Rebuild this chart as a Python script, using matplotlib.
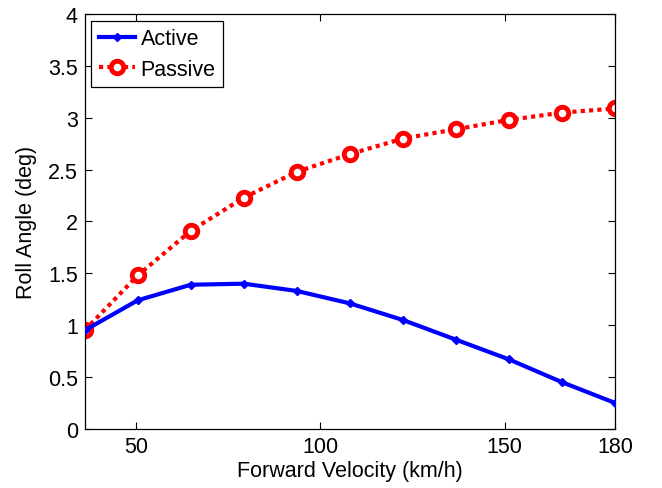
import matplotlib
matplotlib.use("Agg")
import matplotlib.pyplot as plt

plt.rcParams['font.family'] = ['Liberation Sans', 'DejaVu Sans']

velocity = [36, 50.4, 64.8, 79.2, 93.6, 108, 122.4, 136.8, 151.2, 165.6, 180]
active = [0.95, 1.24, 1.39, 1.40, 1.33, 1.21, 1.05, 0.86, 0.67, 0.45, 0.25]
passive = [0.95, 1.48, 1.91, 2.23, 2.48, 2.65, 2.80, 2.89, 2.98, 3.05, 3.09]
xticks = [50, 100, 150, 180]
yticks = [0, 0.5, 1, 1.5, 2, 2.5, 3, 3.5, 4]
yticklabels = ['0', '0.5', '1', '1.5', '2', '2.5', '3', '3.5', '4']

fig = plt.figure(figsize=(6.62, 4.89), dpi=100)
ax = fig.add_axes([0.128, 0.121, 0.801, 0.848])

ax.plot(velocity, active, color='#0000ff', lw=3, marker='D', ms=4.5, mew=1,
        label='Active', zorder=3)
ax.plot(velocity, passive, color='#ff0000', lw=3, ls=(0, (1, 1)), marker='o', ms=9,
        mfc='white', mec='#ff0000', mew=3.5, label='Passive', zorder=2)

ax.set_xlim(36, 180)
ax.set_ylim(0, 4)
ax.set_xticks(xticks)
ax.set_yticks(yticks)
ax.set_yticklabels(yticklabels)
ax.tick_params(direction='in', top=True, right=True, labelsize=15.5, length=5, width=0.8, pad=5)
for s in ax.spines.values():
    s.set_linewidth(0.9)
ax.set_xlabel('Forward Velocity (km/h)', fontsize=15.5, labelpad=2)
ax.set_ylabel('Roll Angle (deg)', fontsize=15.5, labelpad=8)

leg = ax.legend(loc='upper left', fontsize=15.5, fancybox=False, framealpha=1,
                edgecolor='black', borderaxespad=0.3, handlelength=1.7,
                borderpad=0.35, labelspacing=0.45, handletextpad=0.25)
leg.get_frame().set_linewidth(0.9)

fig.savefig('out.png', dpi=100)
